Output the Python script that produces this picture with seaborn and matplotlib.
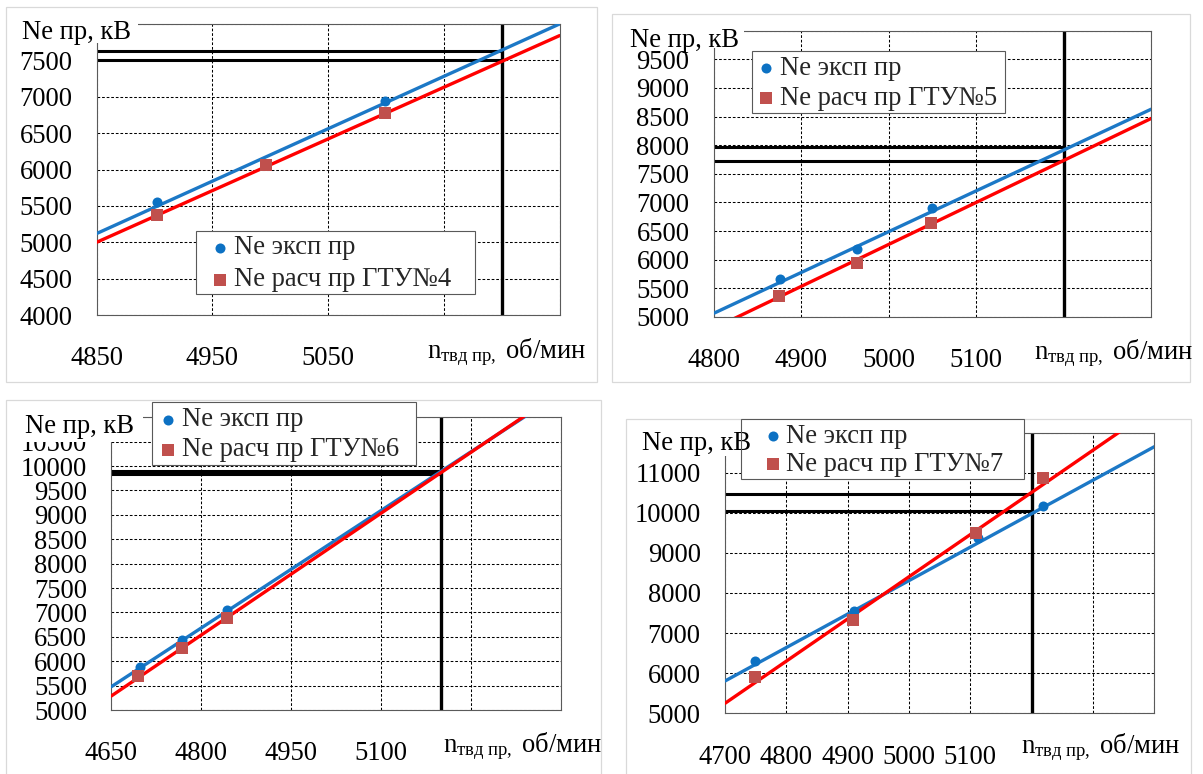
import matplotlib
matplotlib.use("Agg")
import matplotlib.pyplot as plt
import seaborn as sns
from matplotlib.patches import Rectangle
from matplotlib.transforms import Bbox, TransformedBbox

# ------------------------------------------------------------------ data
leg_exp = "Ne эксп пр"
ylabel_text = "Ne пр, кВ"
xlabel_text = r"$\mathrm{n}_{\mathrm{твд\ пр,}}$ об/мин"

# ГТУ№4
g4_exp_x = [4902, 5099]
g4_exp_y = [5548, 6939]
g4_calc_x = [4902, 4996, 5099]
g4_calc_y = [5369, 6058, 6770]
g4_trend_x = [4850, 5250]
g4_trend_exp = [5120, 8000]
g4_trend_calc = [5000, 7840]
g4_ref_n = 5200
g4_ref_ne = [7500, 7630]
g4_xticks = [4850, 4950, 5050, 5150, 5250]
g4_xticklabels = ["4850", "4950", "5050", "", ""]
g4_yticks = [4000, 4500, 5000, 5500, 6000, 6500, 7000, 7500, 8000]
g4_yticklabels = ["4000", "4500", "5000", "5500", "6000", "6500", "7000", "7500", ""]
g4_leg_calc = "Ne расч пр ГТУ№4"

# ГТУ№5
g5_exp_x = [4876, 4964, 5049]
g5_exp_y = [5658, 6187, 6897]
g5_calc_x = [4875, 4964, 5048]
g5_calc_y = [5366, 5937, 6635]
g5_trend_x = [4800, 5300]
g5_trend_exp = [5065, 8630]
g5_trend_calc = [4802, 8468]
g5_ref_n = 5200
g5_ref_ne = [7730, 7975]
g5_xticks = [4800, 4900, 5000, 5100, 5200, 5300]
g5_xticklabels = ["4800", "4900", "5000", "5100", "", ""]
g5_yticks = [5000, 5500, 6000, 6500, 7000, 7500, 8000, 8500, 9000, 9500, 10000]
g5_yticklabels = ["5000", "5500", "6000", "6500", "7000", "7500", "8000",
                  "8500", "9000", "9500", ""]
g5_leg_calc = "Ne расч пр ГТУ№5"

# ГТУ№6
g6_exp_x = [4697, 4768, 4843]
g6_exp_y = [5875, 6434, 7049]
g6_calc_x = [4695, 4768, 4842]
g6_calc_y = [5697, 6277, 6891]
g6_trend_x = [4650, 5400]
g6_trend_exp = [5477, 11500]
g6_trend_calc = [5287, 11535]
g6_ref_n = 5200
g6_ref_ne = [9845, 9890]
g6_xticks = [4650, 4800, 4950, 5100, 5250, 5400]
g6_xticklabels = ["4650", "4800", "4950", "5100", "", ""]
g6_yticks = [5000, 5500, 6000, 6500, 7000, 7500, 8000, 8500, 9000, 9500,
             10000, 10500, 11000]
g6_yticklabels = ["5000", "5500", "6000", "6500", "7000", "7500", "8000",
                  "8500", "9000", "9500", "10000", "10500", ""]
g6_leg_calc = "Ne расч пр ГТУ№6"

# ГТУ№7
g7_exp_x = [4749, 4910, 5112, 5218]
g7_exp_y = [6312, 7560, 9370, 10170]
g7_calc_x = [4749, 4908, 5109, 5218]
g7_calc_y = [5913, 7327, 9489, 10860]
g7_trend_x = [4700, 5400]
g7_trend_exp = [5805, 11648]
g7_trend_calc = [5249, 12613]
g7_ref_n = 5200
g7_ref_ne = [10050, 10475]
g7_xticks = [4700, 4800, 4900, 5000, 5100, 5200, 5300, 5400]
g7_xticklabels = ["4700", "4800", "4900", "5000", "5100", "", "", ""]
g7_yticks = [5000, 6000, 7000, 8000, 9000, 10000, 11000, 12000]
g7_yticklabels = ["5000", "6000", "7000", "8000", "9000", "10000", "11000", ""]
g7_leg_calc = "Ne расч пр ГТУ№7"

# ------------------------------------------------------------------ style
W, H = 1203, 774
sns.set_style("white")
plt.rcParams["font.family"] = ["Liberation Serif", "DejaVu Serif"]
plt.rcParams["mathtext.fontset"] = "custom"
plt.rcParams["mathtext.rm"] = "Liberation Serif"
plt.rcParams["mathtext.it"] = "Liberation Serif:italic"
plt.rcParams["mathtext.bf"] = "Liberation Serif:bold"

FS = 19.2
FS_PX = FS * 100 / 72
BLUE_M = "#0C71C3"
BLUE_L = "#1C78C6"
RED_L = "#FF0000"
RED_M = "#C0504D"

panels = [
    dict(exp_x=g4_exp_x, exp_y=g4_exp_y, calc_x=g4_calc_x, calc_y=g4_calc_y,
         trend_x=g4_trend_x, trend_exp=g4_trend_exp, trend_calc=g4_trend_calc,
         ref_n=g4_ref_n, ref_ne=g4_ref_ne, xticks=g4_xticks, xtl=g4_xticklabels,
         yticks=g4_yticks, ytl=g4_yticklabels, leg_calc=g4_leg_calc,
         axes=(96.7, 24, 559.5, 315), frame=(6, 7, 597, 382),
         lbox=(196, 231, 475, 294), lmx=220, lrows=(248, 280),
         ylab=(21.7, 39.3), mask=(18, 18, 138, 43),
         xlab=(426.7, 357.7), clip=None),
    dict(exp_x=g5_exp_x, exp_y=g5_exp_y, calc_x=g5_calc_x, calc_y=g5_calc_y,
         trend_x=g5_trend_x, trend_exp=g5_trend_exp, trend_calc=g5_trend_calc,
         ref_n=g5_ref_n, ref_ne=g5_ref_ne, xticks=g5_xticks, xtl=g5_xticklabels,
         yticks=g5_yticks, ytl=g5_yticklabels, leg_calc=g5_leg_calc,
         axes=(713.8, 30.7, 1151.3, 317), frame=(611.7, 14.3, 1190, 381.7),
         lbox=(752.3, 51, 1005, 113.3), lmx=766.3, lrows=(68.3, 98.3),
         ylab=(630, 46.7), mask=(626, 25, 744, 47.5),
         xlab=(1034, 359.3), clip=None),
    dict(exp_x=g6_exp_x, exp_y=g6_exp_y, calc_x=g6_calc_x, calc_y=g6_calc_y,
         trend_x=g6_trend_x, trend_exp=g6_trend_exp, trend_calc=g6_trend_calc,
         ref_n=g6_ref_n, ref_ne=g6_ref_ne, xticks=g6_xticks, xtl=g6_xticklabels,
         yticks=g6_yticks, ytl=g6_yticklabels, leg_calc=g6_leg_calc,
         axes=(111.3, 417.2, 561.3, 710), frame=(6, 400, 601, 790),
         lbox=(152.2, 402.3, 415.7, 465), lmx=168.3, lrows=(420, 450),
         ylab=(25, 433.3), mask=(20, 410, 143, 441.5),
         xlab=(443.3, 751.7), clip=603),
    dict(exp_x=g7_exp_x, exp_y=g7_exp_y, calc_x=g7_calc_x, calc_y=g7_calc_y,
         trend_x=g7_trend_x, trend_exp=g7_trend_exp, trend_calc=g7_trend_calc,
         ref_n=g7_ref_n, ref_ne=g7_ref_ne, xticks=g7_xticks, xtl=g7_xticklabels,
         yticks=g7_yticks, ytl=g7_yticklabels, leg_calc=g7_leg_calc,
         axes=(725, 432.6, 1154.3, 713.3), frame=(626, 419, 1190.7, 790),
         lbox=(740.7, 419, 1024, 479), lmx=772.5, lrows=(436.7, 465),
         ylab=(641.7, 450), mask=(638, 428, 755, 456),
         xlab=(1021, 752.7), clip=None),
]

fig = plt.figure(figsize=(W / 100, H / 100), dpi=100)
fig.patch.set_facecolor("white")


def frac_rect(x0, y0, x1, y1):
    return (x0 / W, 1 - y1 / H, (x1 - x0) / W, (y1 - y0) / H)


for P in panels:
    # panel frame
    fx, fy, fw, fh = frac_rect(*P["frame"])
    fig.add_artist(Rectangle((fx, fy), fw, fh, transform=fig.transFigure,
                             fill=False, edgecolor="#D9D9D9", lw=0.9, zorder=0))

    ax = fig.add_axes(list(frac_rect(*P["axes"])))
    ax.set_facecolor("white")
    xlim = (P["xticks"][0], P["xticks"][-1])
    ylim = (P["yticks"][0], P["yticks"][-1])

    ax.hlines(P["ref_ne"], xlim[0], P["ref_n"], colors="black", lw=2.2, zorder=2.2)
    ax.vlines(P["ref_n"], ylim[0], ylim[1], colors="black", lw=2.4, zorder=2.2)

    sns.lineplot(x=P["trend_x"], y=P["trend_exp"], color=BLUE_L, lw=2.4,
                 ax=ax, zorder=3)
    sns.lineplot(x=P["trend_x"], y=P["trend_calc"], color=RED_L, lw=2.4,
                 ax=ax, zorder=3.1)
    sns.scatterplot(x=P["exp_x"], y=P["exp_y"], marker="o", s=52, color=BLUE_M,
                    linewidth=0, ax=ax, label=leg_exp, zorder=4)
    sns.scatterplot(x=P["calc_x"], y=P["calc_y"], marker="s", s=78, color=RED_M,
                    linewidth=0, ax=ax, label=P["leg_calc"], zorder=5)
    if ax.get_legend() is not None:
        ax.get_legend().remove()
    handles, labels = ax.get_legend_handles_labels()

    ax.set_xlim(*xlim)
    ax.set_ylim(*ylim)
    ax.set_xticks(P["xticks"])
    ax.set_xticklabels(P["xtl"])
    ax.set_yticks(P["yticks"])
    ax.set_yticklabels(P["ytl"])
    ax.set_xlabel("")
    ax.set_ylabel("")
    ax.set_axisbelow(True)
    ax.grid(True, color="black", lw=0.75, linestyle=(0, (2.6, 1.8)))
    for s in ax.spines.values():
        s.set_color("#5A5A5A")
        s.set_linewidth(0.8)
        s.set_visible(True)
    ax.tick_params(axis="both", direction="out", length=5.5, width=0.8,
                   color="#5A5A5A", labelsize=FS, labelcolor="black")
    ax.tick_params(axis="x", pad=17.0)
    ax.tick_params(axis="y", pad=12.0)

    # legend box: white fill below the axis title, border on top
    lx, ly, lw_, lh = frac_rect(*P["lbox"])
    fig.add_artist(Rectangle((lx, ly), lw_, lh, transform=fig.transFigure,
                             facecolor="white", edgecolor="none", zorder=2.9))
    fig.add_artist(Rectangle((lx, ly), lw_, lh, transform=fig.transFigure,
                             fill=False, edgecolor="#595959", lw=0.8, zorder=4))

    # white area behind the y-axis title (covers the plot-area corner)
    mx, my, mw, mh = frac_rect(*P["mask"])
    fig.add_artist(Rectangle((mx, my), mw, mh, transform=fig.transFigure,
                             facecolor="white", edgecolor="none", zorder=2.95))
    yx, yb = P["ylab"]
    fig.text(yx / W, 1 - yb / H, ylabel_text, fontsize=FS, ha="left",
             va="baseline", color="black", zorder=3)

    # x-axis title
    xx, xb = P["xlab"]
    t = fig.text(xx / W, 1 - xb / H, xlabel_text, fontsize=FS, ha="left",
                 va="baseline", color="black", zorder=3)
    if P["clip"] is not None:
        t.set_clip_box(TransformedBbox(Bbox([[0, 0], [P["clip"] / W, 1]]),
                                       fig.transFigure))
        t.set_clip_on(True)

    hl = 0.6
    for h, lab, ry in zip(handles, labels, P["lrows"]):
        fig.legend([h], [lab], loc="center left",
                   bbox_to_anchor=((P["lmx"] - hl * FS_PX / 2) / W, 1 - ry / H),
                   bbox_transform=fig.transFigure, frameon=False, borderpad=0,
                   borderaxespad=0, handlelength=hl, handletextpad=0.22,
                   fontsize=FS, scatterpoints=1)

fig.savefig("out.png", dpi=100, facecolor="white")
